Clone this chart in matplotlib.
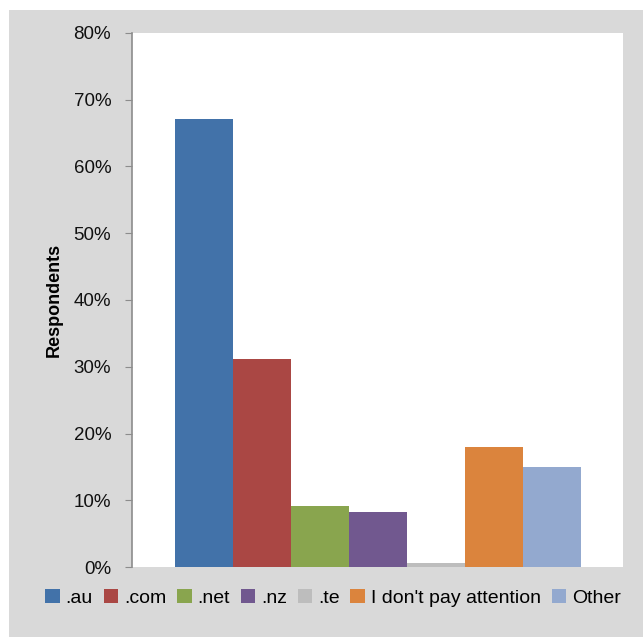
import matplotlib.pyplot as plt
from matplotlib.patches import Rectangle
from matplotlib.ticker import FuncFormatter

labels = ['.au', '.com', '.net', '.nz', '.te', "I don't pay attention", 'Other']
values = [67.1, 31.2, 9.2, 8.2, 0.6, 18.0, 15.0]
colors = ['#4272a9', '#aa4744', '#89a54e', '#71588f', '#bdbdbd', '#db843d', '#93a9cf']

plt.rcParams['font.family'] = ['Liberation Sans', 'DejaVu Sans']

fig = plt.figure(figsize=(6.43, 6.37), dpi=100)
# grey chart area
fig.patches.append(Rectangle((9 / 643, 0), 1, 627 / 637, transform=fig.transFigure,
                             facecolor='#d9d9d9', edgecolor='none', zorder=-1))
ax = fig.add_axes([132 / 643, 1 - 567 / 637, 491 / 643, 534 / 637])
ax.set_facecolor('white')

# bar group occupies the middle of the single category slot
start = 43 / 491
width = 58 / 491
for i, (v, c, lab) in enumerate(zip(values, colors, labels)):
    ax.bar(start + width * (i + 0.5), v, width=width, color=c, label=lab)

ax.set_xlim(0, 1)
ax.set_ylim(0, 80)
ax.set_yticks(range(0, 81, 10))
ax.yaxis.set_major_formatter(FuncFormatter(lambda v, p: f'{v:.0f}%'))
ax.tick_params(axis='y', direction='out', length=5, color='#8c8c8c', labelsize=13.5,
               pad=10, labelcolor='#111111')
ax.set_xticks([])
for s in ['top', 'right', 'bottom']:
    ax.spines[s].set_visible(False)
ax.spines['left'].set_color('#8c8c8c')
ax.spines['left'].set_linewidth(1.2)
ax.set_ylabel('Respondents', fontsize=13, fontweight='bold', labelpad=8)

fig.legend(loc='center', bbox_to_anchor=(333 / 643, 1 - 598 / 637), ncol=7, frameon=False,
           fontsize=14, handlelength=0.75, handleheight=0.75, handletextpad=0.3,
           columnspacing=0.55, borderpad=0)

fig.savefig('out.png', dpi=100)
